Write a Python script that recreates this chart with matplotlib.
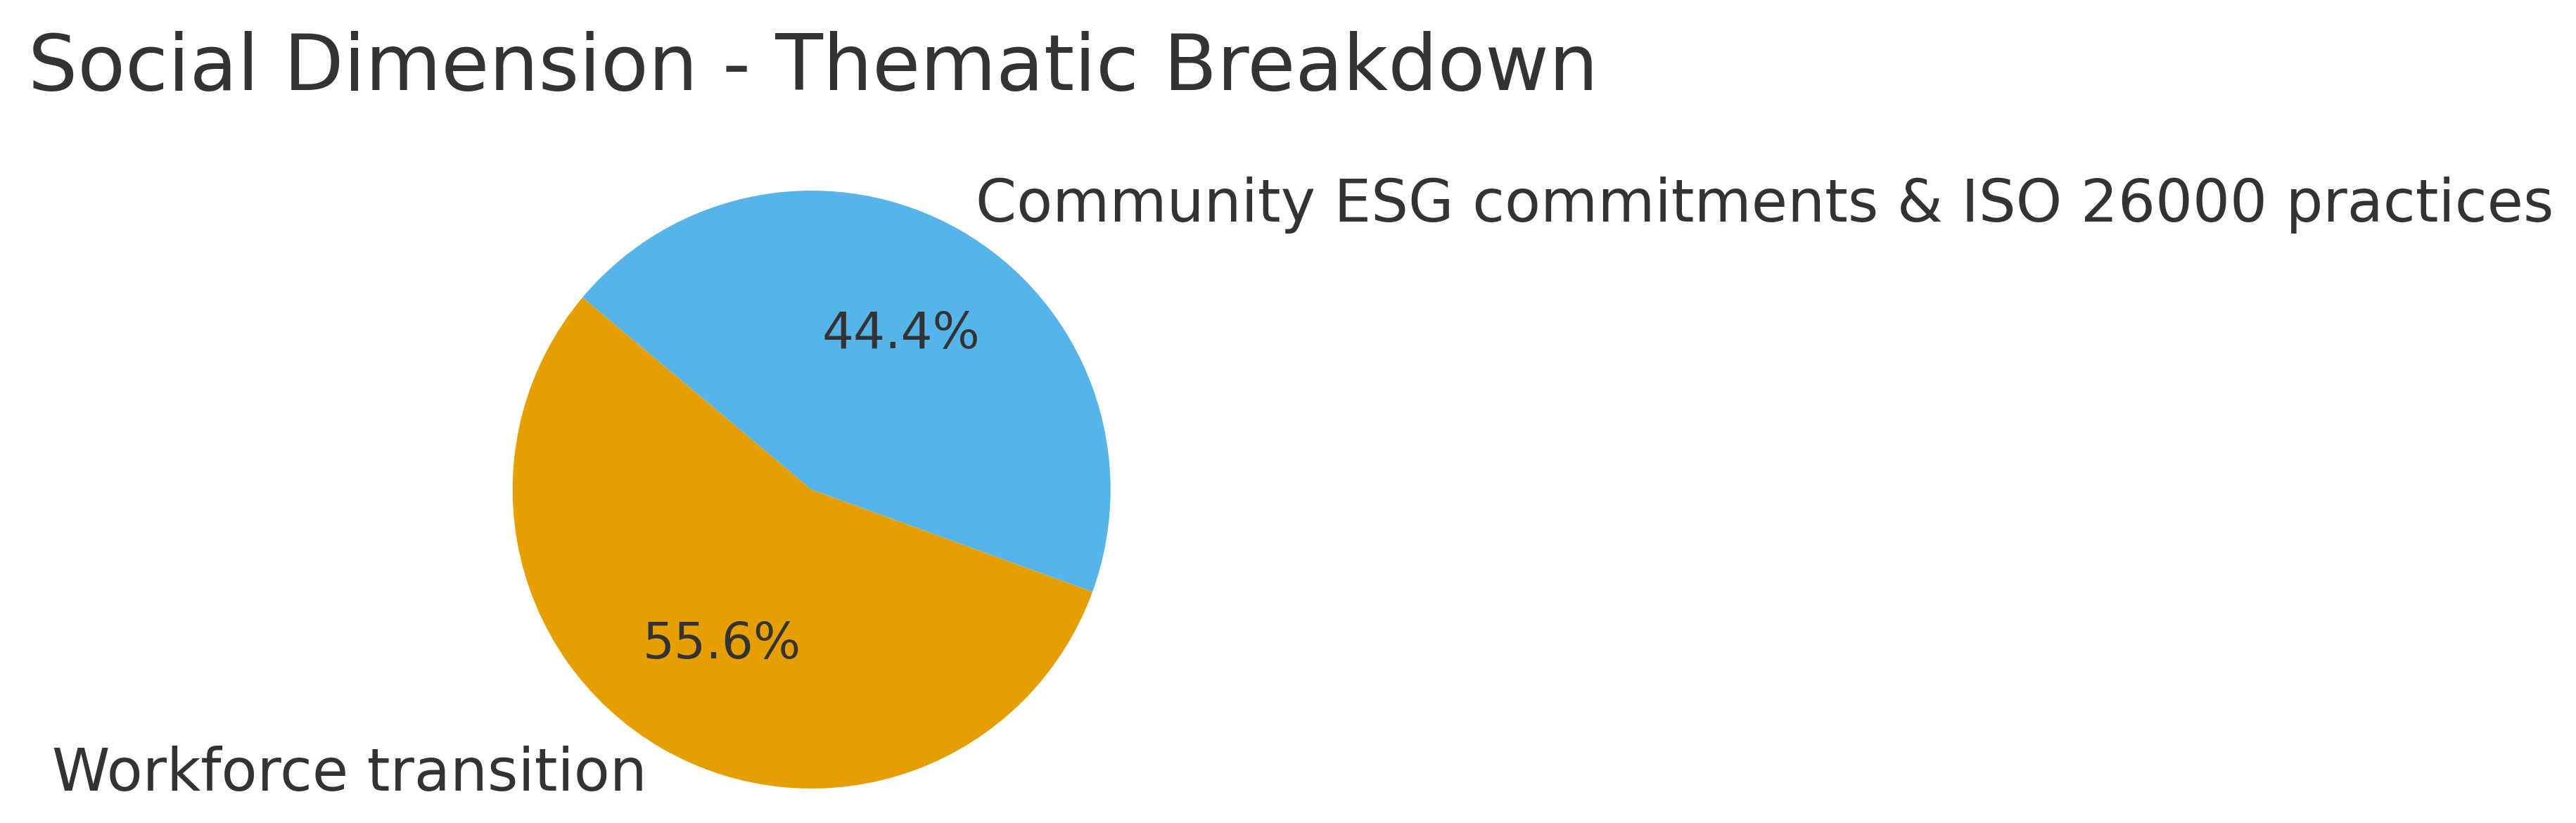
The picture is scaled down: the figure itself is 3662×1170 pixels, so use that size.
import matplotlib
matplotlib.use("Agg")
import matplotlib.pyplot as plt

categories = ["Workforce transition", "Community ESG commitments & ISO 26000 practices"]
values = [5, 4]
colors = ["#E69F00", "#56B4E9"]
title = "Social Dimension - Thematic Breakdown"

W, H, DPI = 3662, 1170, 300
fig = plt.figure(figsize=(W / DPI, H / DPI), dpi=DPI)
plt.rcParams["font.family"] = ["DejaVu Sans"]
text_color = "#333333"

# pie geometry in pixels
cx, cy, r = 1153.7, 1170 - 696, 425
span = 2.5 * r
ax = fig.add_axes([(cx - span / 2) / W, (cy - span / 2) / H, span / W, span / H])
wedges, texts, autotexts = ax.pie(
    values, labels=categories, colors=colors, startangle=140,
    autopct="%1.1f%%", textprops={"color": text_color, "fontsize": 20},
)
for t in autotexts:
    t.set_fontsize(17)
ax.set_xlim(-1.25, 1.25)
ax.set_ylim(-1.25, 1.25)
ax.set_aspect("equal")
ax.axis("off")

fig.text(40 / W, (H - 128) / H, title, fontsize=26.6, color=text_color,
         ha="left", va="baseline")

fig.savefig("out.png", dpi=DPI, facecolor="white")
